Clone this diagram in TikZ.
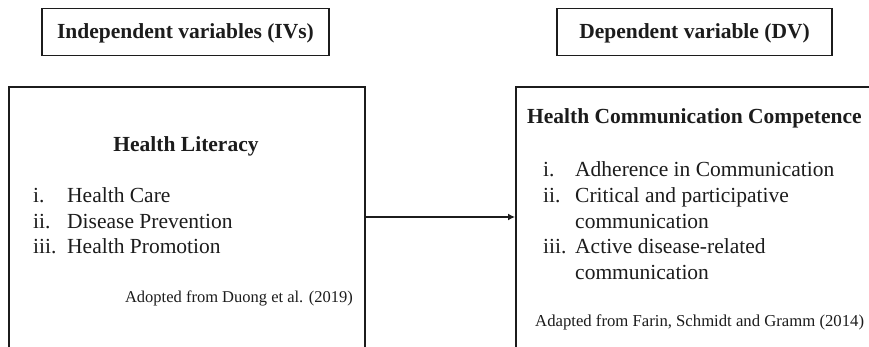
\documentclass[tikz,border=0pt]{standalone}
\usepackage{fontspec}
\setmainfont{Liberation Serif}
\usetikzlibrary{arrows.meta}
\definecolor{ink}{HTML}{1C1C1C}
\begin{document}
\begin{tikzpicture}[x=1pt,y=1pt,
  labelbox/.style={draw=ink,line width=1.8pt,minimum width=#1,minimum height=47pt,inner sep=0pt,
    text height=16pt,text depth=2pt,
    font=\fontsize{21.5}{25}\selectfont\bfseries,text=ink},
  bigbox/.style={draw=ink,line width=1.8pt,anchor=north west,minimum width=#1,minimum height=300pt,inner sep=0pt},
  head/.style={font=\fontsize{21.5}{25}\selectfont\bfseries,text=ink,inner sep=0pt},
  item/.style={font=\fontsize{21.5}{25}\selectfont,text=ink,inner sep=0pt,anchor=base west},
  src/.style={font=\fontsize{16.7}{20}\selectfont,text=ink,inner sep=0pt},
  conn/.style={draw=ink,line width=1.6pt,-{Latex[length=7pt,width=7pt]}}]
\useasboundingbox (0,0) rectangle (869,-347);
\clip (0,0) rectangle (869,-347);
\fill[white] (0,0) rectangle (869,-347);
% top labels
\node[labelbox=287pt] (iv) at (185.5,-32) {Independent variables (IVs)};
\node[labelbox=275pt] (dv) at (694.5,-32) {Dependent variable (DV)};
% big boxes
\node[bigbox=356pt] (L) at (8,-86) {};
\node[bigbox=400pt] (R) at (515,-86) {};
% left content
\node[head,anchor=base] (lh) at (186,-152) {Health Literacy};
\node[item] (l1n) at (33,-203) {i.};
\node[item] (l1) at (67,-203) {Health Care};
\node[item] (l2n) at (33,-228.5) {ii.};
\node[item] (l2) at (67,-228.5) {Disease Prevention};
\node[item] (l3n) at (33,-254) {iii.};
\node[item] (l3) at (67,-254) {Health Promotion};
\node[src,anchor=base east,font=\fontsize{16.5}{20}\selectfont] (ls) at (353,-302) {Adopted from Duong et al. (2019)};
% right content
\node[head,anchor=base west] (rh) at (527,-124) {Health Communication Competence};
\node[item] (r1n) at (543,-177) {i.};
\node[item] (r1) at (575,-177) {Adherence in Communication};
\node[item] (r2n) at (543,-203) {ii.};
\node[item] (r2) at (575,-203) {Critical and participative};
\node[item] (r2b) at (575,-228.5) {communication};
\node[item] (r3n) at (543,-254) {iii.};
\node[item] (r3) at (575,-254) {Active disease-related};
\node[item] (r3b) at (575,-279.5) {communication};
\node[src,anchor=base west] (rs) at (535,-326) {Adapted from Farin, Schmidt and Gramm (2014)};
% connector
\coordinate (ay) at (0,-217);
\draw[conn] (L.east |- ay) -- (R.west |- ay);
\end{tikzpicture}
\end{document}
